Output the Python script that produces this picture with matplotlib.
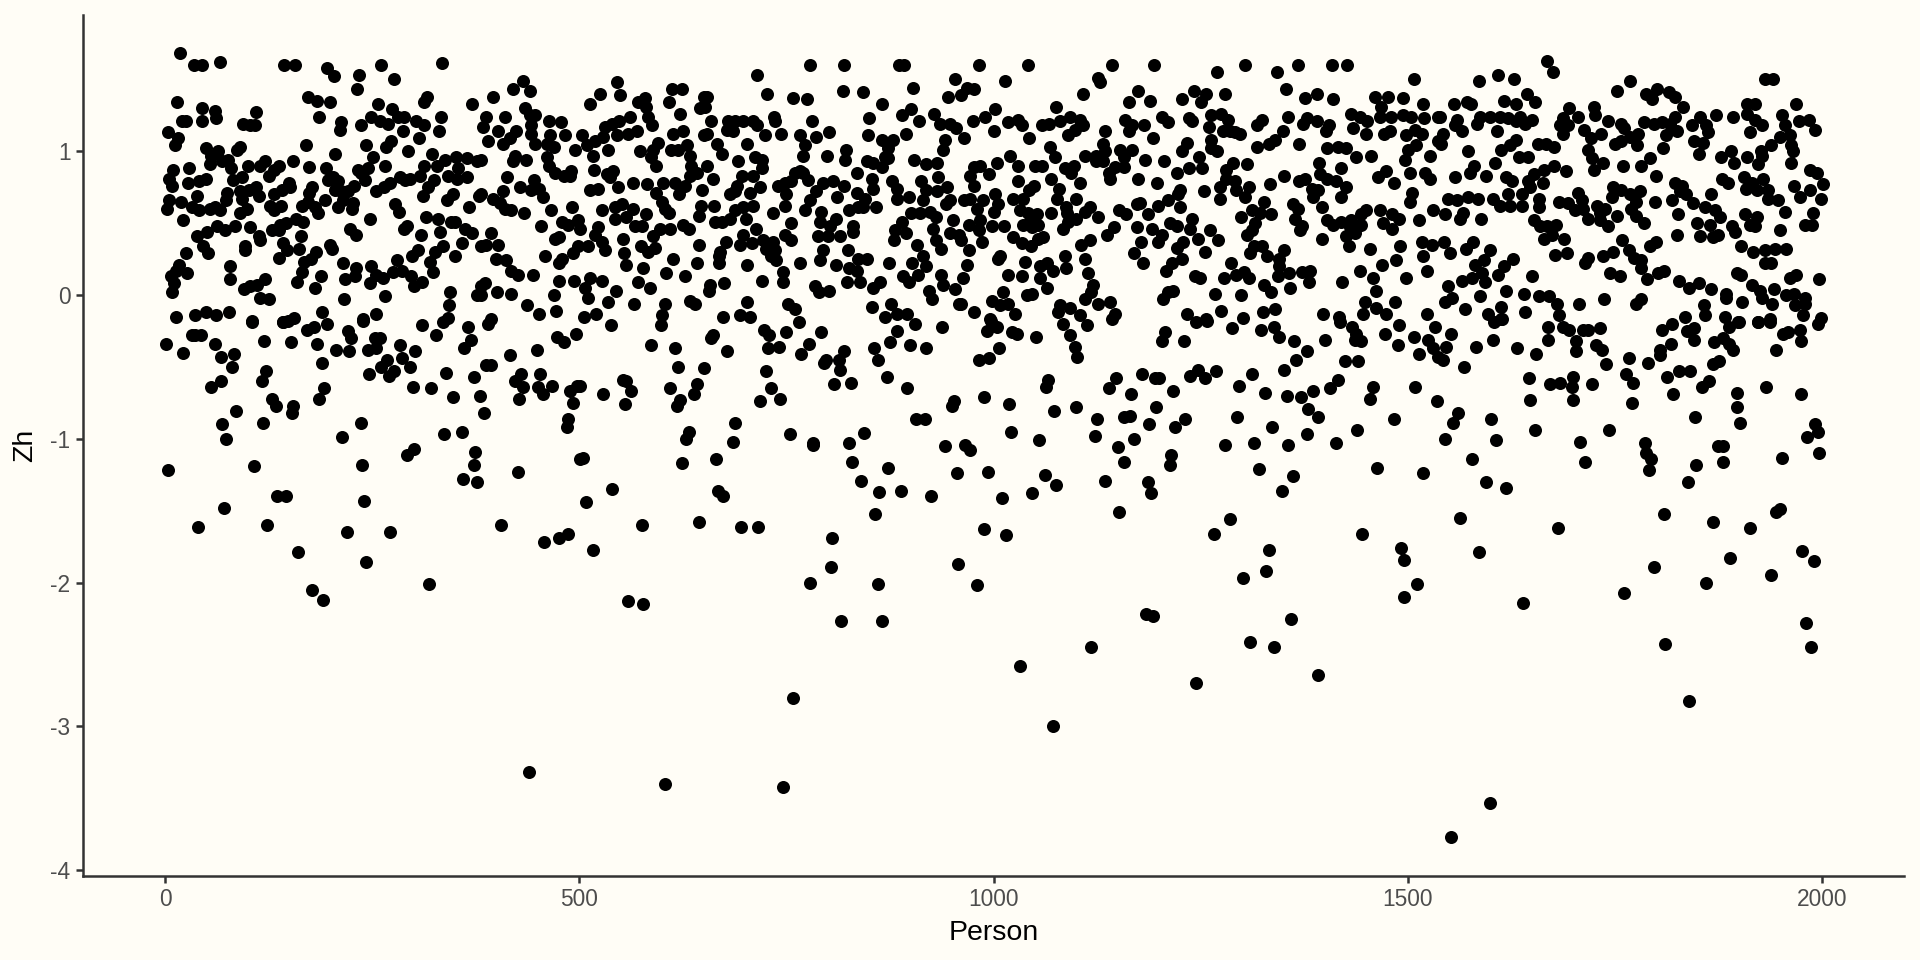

# 3rd Party Libraries
import matplotlib

matplotlib.use("Agg")
import matplotlib.pyplot as plt

upper_a = [
    (18,1.68),(35,1.60),(45,1.60),(66,1.62),(144,1.60),(157,1.60),(196,1.58),(204,1.52),(234,1.53),(232,1.43),
    (261,1.60),(276,1.50),(334,1.61),(14,1.34),(45,1.30),(60,1.28),(62,1.23),(45,1.21),(20,1.21),(25,1.21),
    (4,1.13),(16,1.09),(12,1.04),(110,1.27),(94,1.19),(103,1.18),(109,1.18),(173,1.38),(184,1.35),(199,1.34),
    (186,1.24),(212,1.20),(211,1.15),(236,1.18),(257,1.33),(274,1.29),(249,1.24),(259,1.21),(269,1.19),(281,1.24),
    (289,1.24),(303,1.21),(313,1.18),(316,1.38),(313,1.34),(333,1.24),(370,1.33),(331,1.14),(287,1.14),(273,1.07),
    (267,1.03),(306,1.09),(293,1.00),(243,1.04),(251,0.96),(265,0.90),(205,0.98),(170,1.04),(90,1.03),(87,1.01),
    (49,1.02),(64,1.00),(55,0.97),(54,0.91),(69,0.93),(76,0.94),(80,0.88),(100,0.90),(115,0.90),(121,0.93),
    (126,0.83),(132,0.87),(138,0.90),(155,0.93),(174,0.89),(194,0.88),(10,0.87),(29,0.88),(5,0.81),(8,0.76),
    (28,0.78),(41,0.79),(49,0.81),(82,0.80),(93,0.82),(75,0.71),(74,0.66),(38,0.69),(5,0.66),(2,0.60),
    (19,0.65),(32,0.61),(41,0.59),(54,0.60),(66,0.59),(60,0.61),(22,0.52),(91,0.57),(99,0.60),(93,0.67),
    (90,0.72),(101,0.73),(110,0.75),(113,0.69),(127,0.62),(132,0.70),(141,0.73),(150,0.78),(151,0.75),(131,0.59),
    (140,0.62),(177,0.75),(174,0.71),(165,0.62),(173,0.65),(181,0.61),(185,0.57),(193,0.66),(158,0.53),(166,0.51),
    (197,0.80),(203,0.82),(209,0.79),(205,0.73),(213,0.72),(221,0.72),(228,0.76),(215,0.66),(227,0.64),(209,0.61),
    (226,0.60),(233,0.87),(245,0.88),(241,0.80),(236,0.85),(255,0.72),(264,0.75),(271,0.78),(284,0.82),(290,0.80),
    (296,0.81),(308,0.83),(312,0.90),(322,0.98),(328,0.90),(338,0.94),(351,0.96),(364,0.95),(376,0.93),(342,0.83),
    (354,0.88),(352,0.81),(364,0.82),(325,0.80),(317,0.75),(311,0.69),(340,0.66),(348,0.70),(367,0.61),(379,0.69),
    (278,0.63),(282,0.58),(248,0.53),(223,0.46),(231,0.42),(288,0.46),(292,0.48),(309,0.42),(315,0.54),(329,0.53),
    (332,0.44),(345,0.51),(350,0.51),(362,0.46),(371,0.43),(359,0.36),(335,0.34),(326,0.30),(350,0.27),(320,0.23),
    (323,0.16),(305,0.31),(298,0.27),(280,0.24),(286,0.17),(275,0.16),(297,0.13),(300,0.06),(310,0.09),(249,0.20),
    (255,0.14),(263,0.12),(247,0.08),(215,0.22),(230,0.19),(229,0.13),(217,0.11),(266,-0.01),(216,-0.03),(344,0.02),
    (376,0.00),(343,-0.07),(199,0.35),(202,0.32),(188,0.13),(181,0.05),(190,-0.12),(159,0.09),(165,0.16),(168,0.23),
    (176,0.25),(182,0.30),(164,0.41),(162,0.32),(143,0.36),(147,0.31),(137,0.26),(129,0.45),(137,0.45),(139,0.49),
    (146,0.50),(114,0.41),(115,0.38),(102,0.47),(84,0.48),(97,0.34),(97,0.31),(72,0.45),(63,0.48),(51,0.44),
    (39,0.41),(46,0.34),(52,0.29),(25,0.29),(17,0.21),(13,0.17),(27,0.15),(7,0.13),(11,0.08),(9,0.02),
    (78,0.20),(79,0.11),(95,0.04),(102,0.06),(111,0.07),(121,0.11),(115,-0.02),(125,-0.03),(13,-0.15),(36,-0.14),
    (50,-0.12),(62,-0.14),(77,-0.12),(105,-0.18),(143,-0.19),(156,-0.16),(255,-0.13),(239,-0.17),(381,0.06),
]

upper_b = [
    (396,1.38),(420,1.43),(432,1.49),(441,1.42),(434,1.30),(441,1.25),(447,1.25),(388,1.24),(410,1.24),(464,1.21),
    (478,1.20),(384,1.17),(402,1.14),(424,1.14),(442,1.18),(442,1.12),(390,1.07),(408,1.05),(416,1.09),(447,1.05),
    (465,1.11),(461,1.05),(470,1.03),(483,1.11),(495,1.01),(422,0.97),(420,0.93),(436,0.94),(382,0.94),(461,0.96),
    (463,0.90),(471,0.85),(481,0.83),(490,0.86),(489,0.83),(503,1.11),(509,1.04),(519,1.07),(529,1.10),(531,1.17),
    (539,1.19),(548,1.21),(561,1.24),(513,1.33),(525,1.40),(546,1.48),(549,1.39),(545,1.11),(559,1.12),(570,1.14),
    (535,1.01),(517,0.97),(573,1.00),(518,0.87),(534,0.84),(541,0.86),(537,0.82),(413,0.82),(428,0.75),(445,0.80),
    (442,0.73),(452,0.74),(456,0.68),(382,0.70),(396,0.67),(408,0.72),(404,0.64),(410,0.60),(418,0.59),(433,0.57),
    (466,0.59),(491,0.61),(454,0.48),(479,0.51),(486,0.49),(498,0.52),(501,0.46),(513,0.73),(523,0.74),(547,0.75),
    (565,0.78),(582,0.77),(528,0.59),(543,0.61),(551,0.63),(565,0.60),(543,0.53),(557,0.54),(581,0.56),(567,0.48),
    (576,0.48),(523,0.47),(519,0.42),(527,0.37),(553,0.39),(471,0.39),(475,0.40),(394,0.43),(388,0.35),(402,0.35),
    (400,0.25),(412,0.24),(382,0.34),(459,0.27),(479,0.25),(476,0.22),(492,0.29),(499,0.34),(510,0.34),(531,0.31),
    (554,0.29),(557,0.21),(574,0.34),(583,0.30),(591,0.33),(589,0.41),(598,0.46),(610,0.46),(625,0.49),(632,0.46),
    (577,0.19),(444,0.14),(418,0.17),(426,0.14),(386,0.08),(475,0.10),(494,0.10),(513,0.12),(527,0.10),(507,0.05),
    (511,-0.02),(571,0.09),(585,0.05),(544,0.03),(605,0.15),(628,0.13),(642,0.22),(613,0.25),(644,0.35),(670,0.30),
    (669,0.22),(669,0.27),(401,0.02),(418,0.01),(470,0.00),(382,0.00),(437,-0.07),(452,-0.13),(472,-0.11),(535,-0.05),
    (566,-0.06),(520,-0.13),(506,-0.15),(394,-0.17),(603,-0.06),(600,-0.14),(634,-0.04),(640,-0.06),(658,0.07),(657,0.03),
    (675,0.08),(674,-0.15),(702,0.21),(721,0.10),(702,-0.05),(694,-0.14),(706,-0.15),(612,1.43),(624,1.43),(608,1.34),
    (579,1.37),(571,1.34),(580,1.31),(621,1.26),(583,1.24),(588,1.18),(650,1.38),(654,1.38),(646,1.30),(652,1.31),
    (659,1.21),(680,1.21),(688,1.21),(698,1.21),(710,1.21),(714,1.18),(678,1.15),(686,1.14),(654,1.12),(651,1.11),
    (613,1.12),(625,1.14),(595,1.06),(589,1.01),(587,0.96),(593,0.90),(611,1.01),(619,1.01),(630,1.04),(634,0.97),
    (635,0.90),(634,0.83),(642,0.85),(654,0.90),(661,0.81),(666,1.05),(672,0.98),(703,1.05),(724,1.11),(743,1.12),
    (692,0.93),(712,0.96),(720,0.94),(720,0.88),(710,0.83),(696,0.83),(690,0.76),(682,0.70),(688,0.72),(706,0.71),
    (718,0.75),(601,0.78),(593,0.71),(616,0.78),(628,0.76),(620,0.70),(648,0.73),(600,0.65),(604,0.60),(608,0.57),
    (647,0.62),(644,0.55),(663,0.62),(664,0.51),(672,0.51),(682,0.53),(688,0.59),(698,0.61),(710,0.62),(701,0.53),
    (713,0.46),(734,0.57),(677,0.37),(694,0.35),(698,0.42),(708,0.36),(722,0.38),(734,0.37),(726,0.32),(736,0.31),
    (732,0.27),(738,0.24),(767,0.22),(746,0.16),(746,0.09),(752,-0.06),(760,-0.10),(784,0.06),(789,0.02),(802,0.03),
    (779,1.60),(819,1.60),(886,1.60),(892,1.60),(715,1.53),(727,1.40),(758,1.37),(775,1.36),(818,1.42),(842,1.41),
    (865,1.33),(903,1.44),(953,1.50),(945,1.38),(735,1.24),(736,1.21),(781,1.21),(802,1.13),(786,1.10),(766,1.11),
    (772,1.04),(770,0.97),(799,0.97),(822,1.01),(821,0.94),(850,1.23),(849,1.11),(866,1.08),(879,1.08),(894,1.12),
    (890,1.25),(901,1.29),(910,1.21),(928,1.26),(936,1.19),(947,1.19),(955,1.16),(941,1.08),(939,1.01),(873,1.02),
    (869,0.96),(847,0.93),(855,0.92),(865,0.89),(873,0.95),(904,0.94),(919,0.91),(932,0.92),(835,0.85),(853,0.81),
    (854,0.74),(766,0.86),(760,0.85),(770,0.85),(776,0.80),(756,0.79),(748,0.78),(740,0.76),(750,0.70),(748,0.62),
    (786,0.72),(778,0.66),(772,0.59),(794,0.78),(806,0.79),(819,0.76),(811,0.68),(835,0.71),(845,0.67),(837,0.61),
    (825,0.59),(843,0.61),(858,0.61),(792,0.58),(790,0.51),(810,0.53),(803,0.48),(788,0.41),(800,0.41),(815,0.41),
    (756,0.50),(748,0.42),(756,0.38),(831,0.48),(830,0.44),(794,0.31),(790,0.24),(810,0.21),(824,0.31),(847,0.25),
    (837,0.25),(835,0.17),(825,0.19),(823,0.09),(839,0.09),(863,0.09),(855,0.05),(874,0.22),(853,-0.08),(876,-0.06),
    (883,-0.13),(895,-0.13),(869,-0.15),(877,0.79),(884,0.74),(883,0.67),(898,0.68),(913,0.79),(933,0.82),(944,0.75),
    (919,0.73),(932,0.72),(915,0.66),(901,0.57),(911,0.57),(923,0.58),(931,0.54),(947,0.66),(943,0.63),(889,0.51),
    (881,0.45),(894,0.43),(880,0.38),(927,0.46),(951,0.52),(948,0.43),(958,0.42),(908,0.35),(930,0.38),(937,0.32),
    (915,0.27),(902,0.22),(919,0.20),(909,0.14),(891,0.13),(898,0.09),(937,0.14),(939,0.07),(953,0.04),(922,0.03),
    (926,-0.03),(958,-0.06),
]

upper_c = [
    (982,1.60),(1042,1.60),(1143,1.60),(1194,1.60),(1303,1.60),(1367,1.60),(1408,1.60),(1427,1.60),(1270,1.55),(1342,1.55),
    (1507,1.50),(1014,1.49),(1126,1.51),(1129,1.48),(1108,1.40),(1353,1.43),(1174,1.42),(1163,1.34),(1189,1.35),(1242,1.42),
    (1257,1.40),(1279,1.40),(1228,1.36),(1250,1.34),(1376,1.37),(1391,1.40),(1410,1.36),(976,1.43),(968,1.44),(961,1.39),
    (1075,1.31),(1002,1.29),(990,1.24),(975,1.21),(1018,1.20),(1030,1.22),(1035,1.18),(1059,1.18),(1067,1.19),(1080,1.21),
    (1092,1.24),(1104,1.22),(1108,1.18),(1098,1.15),(1090,1.11),(1000,1.14),(1043,1.09),(964,1.09),(1159,1.22),(1167,1.18),
    (1182,1.18),(1163,1.14),(1203,1.24),(1211,1.20),(1193,1.09),(1135,1.14),(1132,1.05),(1135,1.00),(1110,0.97),(1124,0.97),
    (1124,0.93),(1132,0.93),(1153,1.01),(1167,1.01),(1157,0.96),(1157,0.89),(1147,0.89),(1139,0.85),(1141,0.81),(1068,1.03),
    (1074,0.96),(1020,0.97),(1004,0.92),(1029,0.90),(1050,0.90),(1058,0.90),(1086,0.88),(1097,0.90),(1094,0.85),(984,0.90),
    (976,0.89),(972,0.83),(995,0.84),(977,0.76),(1029,0.79),(1070,0.81),(1104,0.78),(1049,0.76),(1043,0.73),(1079,0.74),
    (1077,0.67),(1100,0.67),(1002,0.70),(1024,0.67),(1036,0.67),(972,0.67),(964,0.66),(987,0.66),(980,0.60),(1006,0.63),
    (1000,0.58),(1032,0.59),(1042,0.57),(1053,0.56),(1069,0.57),(1044,0.51),(1036,0.49),(1054,0.49),(1046,0.47),(1088,0.61),
    (1089,0.57),(1116,0.61),(1110,0.58),(1100,0.53),(1090,0.51),(1084,0.46),(1126,0.54),(984,0.52),(971,0.49),(982,0.45),
    (998,0.48),(1013,0.48),(1024,0.40),(1034,0.36),(1045,0.34),(1054,0.39),(1060,0.40),(986,0.37),(970,0.31),(961,0.38),
    (968,0.21),(1008,0.27),(1006,0.25),(1038,0.23),(1018,0.14),(1035,0.13),(963,0.12),(1086,0.27),(1111,0.25),(1117,0.38),
    (1106,0.35),(1087,0.19),(1065,0.22),(1056,0.20),(1072,0.17),(1056,0.12),(1065,0.05),(1114,0.15),(1120,0.07),(1118,0.02),
    (1110,-0.03),(1012,0.02),(1040,0.00),(1046,0.01),(998,-0.04),(1008,-0.07),(1018,-0.06),(1026,-0.13),(976,-0.12),(961,-0.06),
    (996,-0.17),(1080,-0.07),(1092,-0.09),(1078,-0.12),(1105,-0.14),(1126,-0.06),(1141,-0.05),(1147,-0.13),(1146,0.47),(1137,0.42),
    (1151,0.59),(1160,0.56),(1173,0.63),(1177,0.64),(1183,0.94),(1206,0.93),(1174,0.81),(1197,0.78),(1222,0.85),(1236,0.88),
    (1252,0.88),(1233,1.06),(1227,1.00),(1248,0.96),(1236,1.23),(1239,1.21),(1260,1.17),(1263,1.25),(1275,1.26),(1283,1.22),
    (1277,1.14),(1285,1.14),(1291,1.13),(1298,1.12),(1263,1.08),(1263,1.02),(1270,1.00),(1289,0.92),(1281,0.87),(1306,0.91),
    (1281,0.81),(1291,0.79),(1273,0.75),(1293,0.73),(1308,0.75),(1273,0.67),(1304,0.68),(1254,0.72),(1225,0.73),(1223,0.70),
    (1334,0.77),(1351,0.83),(1318,1.03),(1332,1.05),(1340,1.08),(1349,1.14),(1318,1.18),(1324,1.22),(1356,1.24),(1369,1.05),
    (1374,1.19),(1378,1.23),(1390,1.21),(1405,1.18),(1401,1.14),(1434,1.16),(1432,1.26),(1442,1.24),(1451,1.21),(1450,1.12),
    (1460,1.38),(1476,1.38),(1494,1.37),(1468,1.31),(1518,1.33),(1466,1.24),(1480,1.24),(1494,1.25),(1504,1.24),(1520,1.23),
    (1536,1.24),(1478,1.14),(1471,1.12),(1509,1.15),(1498,1.11),(1517,1.12),(1537,1.07),(1402,1.02),(1416,1.03),(1426,1.02),
    (1438,0.96),(1456,0.97),(1510,1.04),(1500,1.01),(1497,0.94),(1527,0.97),(1393,0.92),(1420,0.88),(1394,0.84),(1402,0.81),
    (1414,0.79),(1425,0.75),(1419,0.68),(1369,0.79),(1376,0.81),(1384,0.74),(1392,0.73),(1386,0.68),(1464,0.82),(1474,0.86),
    (1483,0.78),(1503,0.85),(1521,0.85),(1527,0.81),(1505,0.71),(1503,0.65),(1327,0.65),(1335,0.56),(1362,0.63),(1368,0.60),
    (1364,0.53),(1372,0.48),(1370,0.45),(1397,0.61),(1312,0.59),(1322,0.57),(1299,0.54),(1316,0.50),(1312,0.45),(1306,0.42),
    (1402,0.52),(1410,0.49),(1420,0.51),(1432,0.52),(1444,0.49),(1430,0.47),(1436,0.43),(1426,0.41),(1429,0.34),(1396,0.39),
    (1450,0.59),(1466,0.59),(1444,0.56),(1481,0.56),(1490,0.53),(1470,0.50),(1481,0.46),(1513,0.52),(1531,0.59),(1455,0.32),
    (1491,0.34),(1486,0.24),(1517,0.37),(1529,0.35),(1519,0.27),(1523,0.17),(1469,0.21),(1442,0.17),(1458,0.12),(1498,0.12),
    (1462,0.03),(1421,0.09),(1448,-0.05),(1446,-0.13),(1462,-0.09),(1485,-0.05),(1474,-0.13),(1523,-0.13),(1398,-0.13),(1417,-0.15),
    (1173,0.47),(1187,0.56),(1191,0.46),(1203,0.42),(1213,0.50),(1221,0.48),(1199,0.62),(1211,0.66),(1225,0.61),(1178,0.37),
    (1169,0.29),(1180,0.22),(1199,0.37),(1239,0.53),(1237,0.46),(1247,0.39),(1261,0.45),(1271,0.38),(1255,0.30),(1229,0.37),
    (1221,0.33),(1227,0.25),(1215,0.22),(1208,0.17),(1243,0.13),(1249,0.12),(1217,0.03),(1205,-0.03),(1211,0.02),(1267,0.01),
    (1299,0.00),(1278,0.12),(1287,0.22),(1293,0.14),(1302,0.16),(1308,0.12),(1314,0.34),(1324,0.34),(1309,0.29),(1330,0.27),
    (1351,0.31),(1345,0.25),(1345,0.20),(1343,0.13),(1357,0.15),(1372,0.16),(1382,0.17),(1381,0.09),(1326,0.07),(1335,0.02),
    (1358,0.05),(1274,-0.11),(1325,-0.12),(1340,-0.10),(1301,-0.16),(1234,-0.13),(1257,-0.17),
]

upper_d = [
    (1668,1.63),(1675,1.55),(1609,1.53),(1628,1.50),(1586,1.49),(1644,1.40),(1616,1.35),(1631,1.33),(1654,1.34),(1556,1.33),
    (1571,1.34),(1576,1.33),(1768,1.49),(1753,1.42),(1788,1.40),(1801,1.43),(1795,1.36),(1815,1.41),(1823,1.38),(1832,1.31),
    (1931,1.50),(1941,1.50),(1969,1.33),(1909,1.33),(1919,1.33),(1695,1.30),(1725,1.31),(1726,1.25),(1705,1.24),(1688,1.23),
    (1684,1.18),(1694,1.18),(1688,1.12),(1742,1.21),(1713,1.15),(1733,1.12),(1721,1.09),(1539,1.24),(1560,1.22),(1557,1.18),
    (1583,1.19),(1565,1.14),(1587,1.24),(1599,1.24),(1611,1.24),(1621,1.23),(1636,1.24),(1650,1.22),(1642,1.19),(1631,1.21),
    (1608,1.14),(1543,1.12),(1540,1.05),(1631,1.08),(1623,1.04),(1613,1.01),(1573,1.00),(1657,1.05),(1667,1.05),(1677,1.03),
    (1634,0.96),(1645,0.96),(1605,0.92),(1580,0.90),(1575,0.85),(1594,0.83),(1557,0.82),(1665,0.87),(1677,0.90),(1691,0.86),
    (1618,0.82),(1626,0.79),(1652,0.84),(1645,0.79),(1663,0.78),(1648,0.75),(1757,1.19),(1761,1.16),(1785,1.20),(1797,1.19),
    (1807,1.20),(1823,1.24),(1817,1.19),(1825,1.14),(1812,1.11),(1808,1.02),(1778,1.12),(1768,1.10),(1758,1.07),(1750,1.05),
    (1777,1.04),(1853,1.24),(1843,1.18),(1860,1.18),(1863,1.13),(1872,1.25),(1845,1.07),(1856,1.06),(1852,0.98),(1892,1.24),
    (1909,1.26),(1919,1.22),(1927,1.18),(1913,1.13),(1952,1.25),(1955,1.18),(1972,1.21),(1984,1.22),(1991,1.15),(1949,1.10),
    (1961,1.11),(1963,1.04),(1965,1.00),(1939,1.04),(1926,1.00),(1927,0.97),(1923,0.91),(1909,0.96),(1890,1.00),(1878,0.96),
    (1894,0.92),(1963,0.92),(1718,1.01),(1722,0.95),(1736,0.92),(1725,0.87),(1760,0.90),(1782,0.90),(1792,0.95),(1800,0.83),
    (1823,0.78),(1831,0.76),(1829,0.72),(1836,0.70),(1844,0.64),(1819,0.66),(1799,0.65),(1866,0.70),(1859,0.61),(1871,0.59),
    (1877,0.54),(1826,0.56),(1748,0.75),(1758,0.73),(1746,0.68),(1780,0.72),(1768,0.70),(1776,0.65),(1769,0.60),(1776,0.55),
    (1785,0.50),(1879,0.81),(1887,0.78),(1906,0.82),(1915,0.78),(1921,0.73),(1908,0.74),(1929,0.81),(1935,0.73),(1935,0.67),
    (1947,0.66),(1955,0.58),(1966,0.76),(1974,0.68),(1985,0.87),(1994,0.85),(2001,0.77),(1986,0.73),(1999,0.67),(1989,0.57),
    (1980,0.49),(1988,0.49),(1949,0.45),(1907,0.56),(1921,0.54),(1913,0.49),(1919,0.48),(1849,0.50),(1865,0.49),(1853,0.41),
    (1868,0.40),(1875,0.42),(1891,0.48),(1895,0.44),(1825,0.42),(1548,0.67),(1559,0.66),(1573,0.68),(1585,0.67),(1603,0.67),
    (1611,0.62),(1621,0.70),(1623,0.62),(1638,0.70),(1638,0.62),(1658,0.67),(1658,0.61),(1545,0.56),(1567,0.57),(1563,0.53),
    (1589,0.53),(1682,0.65),(1694,0.64),(1706,0.71),(1710,0.66),(1702,0.59),(1712,0.60),(1729,0.62),(1738,0.60),(1752,0.55),
    (1718,0.53),(1732,0.57),(1732,0.52),(1742,0.48),(1653,0.52),(1660,0.48),(1668,0.48),(1679,0.49),(1674,0.42),(1664,0.39),
    (1689,0.39),(1544,0.37),(1551,0.29),(1579,0.37),(1570,0.32),(1599,0.31),(1592,0.24),(1581,0.21),(1627,0.25),(1616,0.20),
    (1609,0.14),(1678,0.28),(1692,0.29),(1759,0.38),(1767,0.31),(1773,0.26),(1781,0.24),(1782,0.19),(1748,0.30),(1736,0.27),
    (1718,0.26),(1714,0.22),(1792,0.34),(1800,0.37),(1590,0.15),(1593,0.09),(1577,0.12),(1565,0.10),(1650,0.13),(1618,0.03),
    (1549,0.06),(1640,0.01),(1587,-0.01),(1554,-0.02),(1545,-0.05),(1658,-0.01),(1671,-0.01),(1680,-0.06),(1682,-0.14),(1707,-0.06),
    (1737,-0.03),(1775,-0.06),(1782,-0.03),(1612,-0.08),(1642,-0.12),(1569,-0.10),(1597,-0.13),(1613,-0.17),(1744,0.15),(1756,0.13),
    (1789,0.11),(1802,0.15),(1809,0.17),(1827,0.10),(1839,0.05),(1851,0.08),(1866,0.04),(1902,0.34),(1917,0.30),(1931,0.31),
    (1943,0.32),(1957,0.32),(1931,0.22),(1938,0.22),(1897,0.15),(1902,0.14),(1915,0.07),(1925,0.03),(1928,-0.02),(1942,0.04),
    (1961,0.12),(1969,0.14),(1996,0.11),(1884,0.01),(1884,-0.02),(1903,-0.05),(1940,-0.06),(1957,0.00),(1966,0.01),(1979,-0.02),
    (1967,-0.07),(1980,-0.06),(1977,-0.14),(1858,-0.07),(1859,-0.14),(1835,-0.15),(1883,-0.15),(1899,-0.19),(1923,-0.19),(1937,-0.17),
    (1999,-0.16),
]

lower_a = [
    (105,-0.19),(143,-0.19),(149,-0.18),(171,-0.24),(180,-0.22),(195,-0.20),(239,-0.18),(221,-0.25),(225,-0.30),(310,-0.21),
    (327,-0.28),(336,-0.19),(341,-0.16),(366,-0.22),(369,-0.31),(361,-0.37),(390,-0.20),(36,-0.28),(32,-0.28),(43,-0.28),
    (1,-0.34),(22,-0.40),(60,-0.34),(67,-0.43),(83,-0.41),(81,-0.50),(119,-0.32),(152,-0.33),(183,-0.34),(206,-0.38),
    (222,-0.39),(245,-0.38),(253,-0.30),(259,-0.30),(255,-0.37),(189,-0.47),(284,-0.35),(302,-0.39),(286,-0.44),(268,-0.45),
    (261,-0.50),(276,-0.53),(270,-0.56),(296,-0.50),(246,-0.55),(299,-0.64),(321,-0.65),(339,-0.54),(347,-0.71),(373,-0.57),
    (380,-0.70),(385,-0.82),(388,-0.49),(394,-0.49),(416,-0.42),(449,-0.38),(430,-0.55),(422,-0.60),(432,-0.64),(453,-0.55),
    (450,-0.64),(456,-0.69),(467,-0.63),(427,-0.72),(489,-0.67),(497,-0.63),(493,-0.75),(473,-0.29),(482,-0.33),(496,-0.27),
    (486,-0.86),(485,-0.92),(122,-0.53),(117,-0.60),(68,-0.60),(56,-0.64),(192,-0.65),(186,-0.72),(129,-0.72),(134,-0.77),
    (154,-0.77),(153,-0.82),(86,-0.81),(69,-0.90),(118,-0.89),(74,-1.00),(237,-0.89),(214,-0.99),(337,-0.97),(358,-0.95),
    (301,-1.07),(292,-1.11),(374,-1.09),(373,-1.18),(360,-1.28),(376,-1.30),(3,-1.22),(107,-1.19),(238,-1.18),(426,-1.23),
    (501,-1.14),(135,-1.40),(146,-1.40),(240,-1.43),(71,-1.48),(40,-1.61),(123,-1.60),(220,-1.65),(272,-1.65),(405,-1.60),
    (458,-1.72),(476,-1.69),(487,-1.66),(160,-1.79),(242,-1.86),(178,-2.05),(191,-2.12),(319,-2.01),
]

lower_b = [
    (538,-0.21),(599,-0.21),(662,-0.28),(659,-0.30),(586,-0.35),(615,-0.37),(678,-0.39),(723,-0.24),(729,-0.28),(749,-0.26),
    (765,-0.19),(792,-0.26),(777,-0.34),(768,-0.41),(728,-0.37),(741,-0.36),(619,-0.50),(650,-0.51),(642,-0.62),(638,-0.69),
    (610,-0.65),(621,-0.73),(618,-0.77),(553,-0.59),(557,-0.60),(563,-0.67),(529,-0.69),(555,-0.76),(501,-0.63),(726,-0.53),
    (732,-0.65),(742,-0.72),(718,-0.74),(820,-0.39),(813,-0.45),(798,-0.45),(796,-0.47),(815,-0.52),(807,-0.62),(828,-0.61),
    (856,-0.37),(860,-0.45),(871,-0.57),(896,-0.65),(875,-0.33),(899,-0.35),(918,-0.37),(883,-0.25),(905,-0.20),(938,-0.22),
    (992,-0.25),(1004,-0.22),(997,-0.18),(1022,-0.26),(1028,-0.27),(1051,-0.29),(1007,-0.37),(994,-0.44),(983,-0.45),(1066,-0.59),
    (1063,-0.64),(952,-0.74),(950,-0.77),(989,-0.71),(1019,-0.76),(1073,-0.81),(906,-0.86),(917,-0.86),(844,-0.96),(826,-1.03),
    (1021,-0.95),(1055,-1.01),(941,-1.05),(965,-1.04),(972,-1.08),(688,-0.89),(686,-1.02),(632,-0.95),(629,-1.00),(754,-0.97),
    (782,-1.03),(782,-1.04),(505,-1.13),(665,-1.14),(624,-1.17),(829,-1.16),(873,-1.20),(840,-1.29),(862,-1.37),(888,-1.36),
    (924,-1.40),(956,-1.24),(993,-1.23),(1010,-1.41),(1062,-1.25),(1047,-1.38),(1076,-1.32),(539,-1.35),(508,-1.44),(667,-1.36),
    (673,-1.40),(857,-1.52),(576,-1.60),(645,-1.58),(695,-1.61),(716,-1.61),(988,-1.63),(1015,-1.67),(805,-1.69),(516,-1.77),
    (804,-1.89),(778,-2.00),(957,-1.87),(861,-2.01),(980,-2.02),(559,-2.13),(577,-2.15),
]

lower_c = [
    (1113,-0.21),(1092,-0.28),(1098,-0.36),(1101,-0.43),(1084,-0.20),(1143,-0.17),(1207,-0.26),(1203,-0.32),(1230,-0.32),(1244,-0.19),
    (1258,-0.18),(1288,-0.23),(1323,-0.24),(1338,-0.22),(1345,-0.29),(1363,-0.32),(1379,-0.39),(1365,-0.45),(1351,-0.52),(1400,-0.31),
    (1424,-0.46),(1440,-0.46),(1433,-0.22),(1437,-0.27),(1436,-0.31),(1444,-0.32),(1418,-0.19),(1473,-0.27),(1488,-0.35),(1489,-0.21),
    (1507,-0.29),(1513,-0.41),(1533,-0.22),(1552,-0.27),(1525,-0.31),(1531,-0.37),(1537,-0.43),(1543,-0.45),(1546,-0.36),(1568,-0.50),
    (1582,-0.36),(1603,-0.31),(1604,-0.19),(1614,-0.17),(1632,-0.37),(1655,-0.41),(1148,-0.58),(1139,-0.65),(1166,-0.69),(1179,-0.55),
    (1195,-0.58),(1200,-0.58),(1217,-0.67),(1237,-0.56),(1247,-0.52),(1255,-0.58),(1268,-0.53),(1312,-0.55),(1296,-0.63),(1328,-0.68),
    (1354,-0.70),(1371,-0.71),(1386,-0.67),(1406,-0.65),(1416,-0.59),(1458,-0.64),(1454,-0.72),(1509,-0.64),(1535,-0.74),(1646,-0.58),
    (1647,-0.73),(1099,-0.78),(1125,-0.86),(1122,-0.98),(1196,-0.78),(1157,-0.85),(1165,-0.84),(1188,-0.90),(1231,-0.86),(1219,-0.92),
    (1169,-1.00),(1150,-1.06),(1157,-1.16),(1214,-1.11),(1213,-1.18),(1134,-1.29),(1187,-1.30),(1190,-1.38),(1152,-1.51),(1294,-0.85),
    (1336,-0.92),(1380,-0.79),(1392,-0.85),(1378,-0.97),(1280,-1.04),(1315,-1.03),(1356,-1.04),(1414,-1.03),(1439,-0.94),(1484,-0.86),
    (1561,-0.82),(1555,-0.89),(1601,-0.86),(1545,-1.00),(1606,-1.01),(1654,-0.94),(1321,-1.21),(1361,-1.26),(1348,-1.36),(1463,-1.20),
    (1518,-1.24),(1578,-1.14),(1595,-1.30),(1619,-1.34),(1286,-1.56),(1266,-1.66),(1445,-1.66),(1563,-1.55),(1586,-1.79),(1492,-1.76),
    (1496,-1.84),(1332,-1.77),(1329,-1.92),(1301,-1.97),(1511,-2.01),(1495,-2.10),(1639,-2.14),(1359,-2.25),(1184,-2.22),(1192,-2.23),
]

lower_d = [
    (1669,-0.22),(1669,-0.31),(1688,-0.22),(1695,-0.24),(1712,-0.24),(1718,-0.24),(1732,-0.23),(1703,-0.32),(1703,-0.39),(1727,-0.35),
    (1735,-0.38),(1739,-0.48),(1767,-0.44),(1790,-0.47),(1804,-0.38),(1805,-0.42),(1818,-0.34),(1807,-0.24),(1819,-0.20),(1837,-0.25),
    (1846,-0.23),(1845,-0.31),(1870,-0.33),(1880,-0.30),(1888,-0.34),(1893,-0.38),(1888,-0.22),(1900,-0.19),(1923,-0.19),(1937,-0.19),
    (1953,-0.27),(1959,-0.26),(1973,-0.24),(1975,-0.32),(1945,-0.38),(1995,-0.20),(1699,-0.57),(1698,-0.64),(1684,-0.61),(1672,-0.62),
    (1723,-0.62),(1699,-0.73),(1763,-0.55),(1772,-0.61),(1771,-0.75),(1813,-0.57),(1828,-0.53),(1841,-0.53),(1820,-0.69),(1855,-0.64),
    (1864,-0.60),(1868,-0.48),(1876,-0.46),(1898,-0.68),(1933,-0.64),(1975,-0.69),(1897,-0.78),(1847,-0.85),(1901,-0.89),(1991,-0.90),
    (1995,-0.95),(1982,-0.99),(1997,-1.10),(1952,-1.13),(1874,-1.05),(1881,-1.05),(1881,-1.16),(1848,-1.18),(1838,-1.30),(1743,-0.94),
    (1708,-1.02),(1714,-1.16),(1786,-1.03),(1788,-1.10),(1794,-1.14),(1791,-1.22),(1809,-1.52),(1869,-1.58),(1913,-1.62),(1949,-1.49),
    (1945,-1.51),(1681,-1.62),(1976,-1.78),(1990,-1.85),(1889,-1.83),(1797,-1.89),(1939,-1.95),(1860,-2.00),(1761,-2.07),
]

# The long tail at the bottom of the plot
tail = [
    (439,-3.32),(603,-3.40),(746,-3.42),(758,-2.80),(816,-2.27),(866,-2.27),(1032,-2.58),(1072,-3.00),(1118,-2.45),(1245,-2.70),
    (1310,-2.41),(1338,-2.45),(1392,-2.64),(1552,-3.77),(1599,-3.53),(1840,-2.82),(1811,-2.43),(1981,-2.28),(1987,-2.45),
]

x_ticks = [0, 500, 1000, 1500, 2000]
y_ticks = [-4, -3, -2, -1, 0, 1]
y_tick_labels = ["-4", "-3", "-2", "-1", "0", "1"]

points = upper_a + upper_b + upper_c + upper_d + lower_a + lower_b + lower_c + lower_d + tail
person = [p[0] for p in points]
zh = [p[1] for p in points]

plt.rcParams["font.family"] = ["Liberation Sans", "DejaVu Sans"]

bg = "#FFFDF6"
fig = plt.figure(figsize=(19.2, 9.6), dpi=100, facecolor=bg)
axis = fig.add_axes([83 / 1920, 1 - 875.7 / 960, (1904 - 83) / 1920, (875.7 - 15) / 960])
axis.set_facecolor(bg)

axis.scatter(person, zh, s=88, c="black", linewidths=0, zorder=3, clip_on=False)

axis.set_xlim(-99, 2099)
axis.set_ylim(-4.038, 1.947)
axis.set_xticks(x_ticks)
axis.set_yticks(y_ticks)
axis.set_yticklabels(y_tick_labels)

for side in ["top", "right"]:
    axis.spines[side].set_visible(False)
for side in ["left", "bottom"]:
    axis.spines[side].set_linewidth(1.8)
    axis.spines[side].set_color("#333333")

axis.tick_params(length=5, width=1.8, color="#333333", labelcolor="#4D4D4D", labelsize=16.4, pad=4)

axis.set_xlabel("Person", fontsize=20.5, color="black")
axis.set_ylabel("Zh", fontsize=20.5, color="black")
axis.xaxis.set_label_coords(0.5, -0.052)
axis.yaxis.set_label_coords(-0.0244, 0.5)

plt.savefig("out.png", dpi=100, facecolor=bg)
plt.close()
